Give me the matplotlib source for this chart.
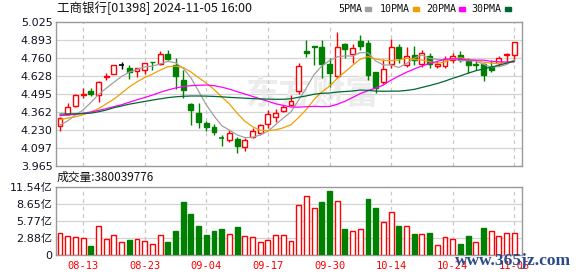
import matplotlib
matplotlib.use("Agg")
import matplotlib.pyplot as plt
import numpy as np

plt.rcParams['font.family'] = ['DejaVu Sans', 'Noto Sans CJK SC']

# ---------------- data ----------------
opens = [4.257, 4.346, 4.404, 4.489, 4.515, 4.485, 4.620, 4.638, 4.706, 4.687,
         4.662, 4.670, 4.731, 4.711, 4.787, 4.706, 4.596, 4.417, 4.355, 4.277,
         4.252, 4.172, 4.154, 4.162, 4.105, 4.179, 4.203, 4.270, 4.326, 4.368,
         4.410, 4.515, 4.812, 4.848, 4.841, 4.711, 4.628, 4.859, 4.785, 4.883,
         4.866, 4.657, 4.579, 4.714, 4.837, 4.706, 4.780, 4.711, 4.775, 4.701,
         4.701, 4.743, 4.780, 4.736, 4.710, 4.711, 4.694, 4.719, 4.780, 4.780]
highs = [4.326, 4.424, 4.490, 4.540, 4.535, 4.591, 4.645, 4.706, 4.730, 4.706,
         4.682, 4.723, 4.731, 4.809, 4.817, 4.755, 4.670, 4.424, 4.424, 4.294,
         4.270, 4.190, 4.228, 4.179, 4.172, 4.240, 4.272, 4.375, 4.380, 4.412,
         4.485, 4.720, 4.890, 4.848, 4.890, 4.756, 4.951, 4.866, 4.860, 4.927,
         4.890, 4.657, 4.748, 4.898, 4.860, 4.840, 4.846, 4.817, 4.792, 4.736,
         4.775, 4.792, 4.809, 4.756, 4.743, 4.719, 4.743, 4.775, 4.792, 4.873]
lows = [4.223, 4.338, 4.400, 4.465, 4.476, 4.436, 4.596, 4.637, 4.674, 4.601,
        4.620, 4.637, 4.669, 4.706, 4.743, 4.530, 4.461, 4.265, 4.240, 4.220,
        4.190, 4.110, 4.142, 4.061, 4.074, 4.172, 4.191, 4.240, 4.289, 4.363,
        4.407, 4.490, 4.767, 4.706, 4.608, 4.547, 4.608, 4.756, 4.720, 4.817,
        4.596, 4.498, 4.564, 4.682, 4.720, 4.694, 4.706, 4.694, 4.682, 4.682,
        4.682, 4.719, 4.731, 4.645, 4.669, 4.591, 4.657, 4.701, 4.719, 4.743]
closes = [4.314, 4.395, 4.485, 4.492, 4.490, 4.584, 4.626, 4.704, 4.706, 4.652,
          4.682, 4.723, 4.727, 4.785, 4.750, 4.628, 4.522, 4.375, 4.289, 4.252,
          4.216, 4.170, 4.208, 4.112, 4.154, 4.220, 4.265, 4.346, 4.351, 4.400,
          4.441, 4.701, 4.792, 4.840, 4.714, 4.645, 4.841, 4.824, 4.834, 4.848,
          4.633, 4.539, 4.677, 4.837, 4.755, 4.775, 4.743, 4.792, 4.711, 4.714,
          4.750, 4.775, 4.743, 4.706, 4.707, 4.633, 4.669, 4.756, 4.790, 4.873]

ma5 = [4.264, 4.295, 4.338, 4.375, 4.430, 4.489, 4.535, 4.579, 4.622, 4.654,
       4.674, 4.693, 4.698, 4.714, 4.733, 4.723, 4.682, 4.612, 4.513, 4.413,
       4.331, 4.260, 4.227, 4.192, 4.172, 4.173, 4.192, 4.219, 4.267, 4.316,
       4.361, 4.449, 4.538, 4.636, 4.699, 4.739, 4.766, 4.773, 4.772, 4.798,
       4.796, 4.736, 4.706, 4.707, 4.688, 4.717, 4.757, 4.780, 4.755, 4.747,
       4.742, 4.748, 4.739, 4.738, 4.736, 4.712, 4.691, 4.694, 4.710, 4.744]
ma10 = [4.305, 4.315, 4.325, 4.340, 4.360, 4.385, 4.420, 4.455, 4.500, 4.545,
        4.582, 4.614, 4.639, 4.668, 4.694, 4.698, 4.688, 4.655, 4.613, 4.573,
        4.527, 4.471, 4.420, 4.352, 4.293, 4.252, 4.226, 4.223, 4.229, 4.244,
        4.267, 4.320, 4.379, 4.452, 4.508, 4.550, 4.608, 4.655, 4.704, 4.749,
        4.768, 4.751, 4.740, 4.739, 4.743, 4.756, 4.747, 4.743, 4.731, 4.718,
        4.729, 4.753, 4.760, 4.746, 4.741, 4.727, 4.720, 4.716, 4.724, 4.740]
ma20 = [4.333, 4.338, 4.343, 4.351, 4.360, 4.372, 4.385, 4.400, 4.414, 4.432,
        4.450, 4.467, 4.485, 4.505, 4.522, 4.537, 4.548, 4.554, 4.557, 4.559,
        4.554, 4.543, 4.529, 4.510, 4.493, 4.475, 4.457, 4.439, 4.421, 4.409,
        4.397, 4.396, 4.399, 4.402, 4.400, 4.401, 4.417, 4.439, 4.467, 4.496,
        4.517, 4.536, 4.559, 4.595, 4.625, 4.653, 4.677, 4.699, 4.717, 4.733,
        4.749, 4.752, 4.750, 4.743, 4.742, 4.742, 4.733, 4.730, 4.728, 4.729]
ma30 = [4.345, 4.346, 4.347, 4.349, 4.352, 4.362, 4.375, 4.392, 4.405, 4.418,
        4.428, 4.438, 4.448, 4.457, 4.466, 4.472, 4.476, 4.478, 4.478, 4.477,
        4.475, 4.472, 4.468, 4.465, 4.462, 4.459, 4.457, 4.455, 4.454, 4.454,
        4.458, 4.469, 4.479, 4.491, 4.498, 4.500, 4.507, 4.511, 4.515, 4.522,
        4.520, 4.514, 4.513, 4.514, 4.514, 4.519, 4.527, 4.541, 4.555, 4.570,
        4.588, 4.608, 4.626, 4.646, 4.664, 4.678, 4.691, 4.705, 4.720, 4.735]

volumes = [3.70, 3.25, 3.03, 2.86, 1.56, 4.93, 2.74, 3.36, 2.19, 2.63,
           2.74, 2.41, 1.90, 3.42, 2.29, 4.14, 9.02, 6.95, 4.93, 3.42,
           4.14, 4.37, 3.53, 4.76, 3.20, 3.03, 2.24, 2.57, 3.36, 3.36,
           2.41, 8.46, 9.98, 7.90, 8.97, 10.82, 9.08, 4.42, 4.09, 4.37,
           9.47, 7.96, 5.60, 7.28, 4.93, 4.93, 3.58, 3.58, 3.75, 1.68,
           3.03, 2.74, 1.90, 3.25, 2.24, 4.59, 4.09, 3.25, 3.75, 3.80]

price_ticks = [3.965, 4.097, 4.230, 4.362, 4.495, 4.628, 4.760, 4.893, 5.025]
vol_ticks = [0, 2.885, 5.77, 8.655, 11.54]
vol_tick_labels = ['0', '2.88亿', '5.77亿', '8.65亿', '11.54亿']
date_labels = ['08-13', '08-23', '09-04', '09-17', '09-30', '10-14', '10-24', '11-05']

title = '工商银行[01398] 2024-11-05 16:00'
volume_text = '成交量:380039776'
ma_names = ['5PMA', '10PMA', '20PMA', '30PMA']

# ---------------- styles ----------------
RED = '#ff0000'
GREEN = '#008000'
MA_COLORS = ['#a0a0a0', '#f0a000', '#ff00ff', '#006633']
SPINE = '#999999'
GRID = '#d4d4d4'

W, H = 578, 276
fig = plt.figure(figsize=(W / 100, H / 100), dpi=100)

def rect(x0, y0, x1, y1):
    return [x0 / W, 1 - y1 / H, (x1 - x0) / W, (y1 - y0) / H]

axp = fig.add_axes(rect(56, 21.7, 522, 165.7))
axv = fig.add_axes(rect(56, 186.7, 522, 255.3))

n = len(closes)
x = np.arange(n)
o = np.array(opens); c = np.array(closes); h = np.array(highs); l = np.array(lows)
xlim = (-0.52, n - 0.0)
body_w = 0.64
tick_idx = list(range(3, n, 8))

for ax in (axp, axv):
    ax.set_xlim(*xlim)
    for s in ax.spines.values():
        s.set_color(SPINE)
        s.set_linewidth(1.0)
    ax.tick_params(length=0)
    for xi in tick_idx:
        ax.axvline(xi, color='#c8c8c8', lw=0.9, ls=(0, (3, 3)), zorder=0.6)

# price panel
axp.set_ylim(price_ticks[0], price_ticks[-1])
axp.set_yticks(price_ticks)
axp.set_yticklabels([f'{t:.3f}' for t in price_ticks], fontsize=8, color='#111122')
axp.tick_params(axis='y', pad=2.5)
axp.set_xticks([])
for t in price_ticks[1:-1]:
    axp.axhline(t, color=GRID, lw=0.9, zorder=0.5)

axp.text(32.7, 4.485, '东方财富', fontsize=24, fontweight='bold', color='#ececec',
         ha='center', va='center', family=['Noto Sans CJK SC'], zorder=0.55)

for i in range(n):
    if c[i] > o[i]:
        col, fc = RED, 'white'
    elif c[i] < o[i]:
        col, fc = GREEN, GREEN
    else:
        col, fc = '#000000', '#000000'
    top, bot = max(o[i], c[i]), min(o[i], c[i])
    axp.vlines(x[i], top, h[i], color=col, lw=1.0, zorder=3)
    axp.vlines(x[i], l[i], bot, color=col, lw=1.0, zorder=3)
    if top - bot < 0.003:
        axp.hlines((top + bot) / 2, x[i] - body_w / 2, x[i] + body_w / 2, color=col, lw=1.2, zorder=3)
    else:
        axp.bar(x[i], top - bot, bottom=bot, width=body_w, facecolor=fc,
                edgecolor=col, linewidth=1.0, zorder=3)

for ma, col in zip([ma5, ma10, ma20, ma30], MA_COLORS):
    axp.plot(x, ma, color=col, lw=0.9, zorder=4)

# volume panel
axv.set_ylim(0, vol_ticks[-1])
axv.set_yticks(vol_ticks)
axv.set_yticklabels(vol_tick_labels, fontsize=8, color='#111122')
axv.tick_params(axis='y', pad=2.5)
for t in vol_ticks[1:-1]:
    axv.axhline(t, color=GRID, lw=0.9, zorder=0.5)
axv.set_xticks(tick_idx)
axv.set_xticklabels(date_labels, fontsize=7.5, color=RED, family=['DejaVu Sans Mono'])
axv.tick_params(axis='x', pad=4)

prev = np.concatenate([[c[0] - 1], c[:-1]])
for i in range(n):
    up = c[i] >= prev[i]
    if up:
        axv.bar(x[i], volumes[i], width=body_w, facecolor='white', edgecolor=RED, linewidth=1.0, zorder=3)
    else:
        axv.bar(x[i], volumes[i], width=body_w, facecolor=GREEN, edgecolor=GREEN, linewidth=1.0, zorder=3)

# texts
fig.text(57 / W, 1 - 8.5 / H, title, fontsize=9, va='center', ha='left',
         family=['Noto Sans CJK SC'], color='#111111')
fig.text(57 / W, 1 - 177 / H, volume_text, fontsize=8.5, va='center', ha='left',
         family=['Noto Sans CJK SC'], color='#111111')

leg_x = [338, 380, 426, 471.7]
for name, col, lx in zip(ma_names, MA_COLORS, leg_x):
    t = fig.text(lx / W, 1 - 9 / H, name, fontsize=7.2, va='center', ha='left',
                 family=['DejaVu Sans Mono'], color='#111111')
    wpx = 6.0 * len(name)
    fig.patches.append(plt.Rectangle(((lx + wpx + 3) / W, 1 - 10.5 / H), 6 / W, 3 / H,
                                     transform=fig.transFigure, color=col))

fig.text(513 / W, 1 - 261 / H, 'www.365jz.com', fontsize=12.5, fontweight='bold',
         family=['Liberation Serif'], color='#2b4a8b', ha='center', va='center', zorder=10)

fig.savefig('out.png', dpi=100, facecolor='white')
